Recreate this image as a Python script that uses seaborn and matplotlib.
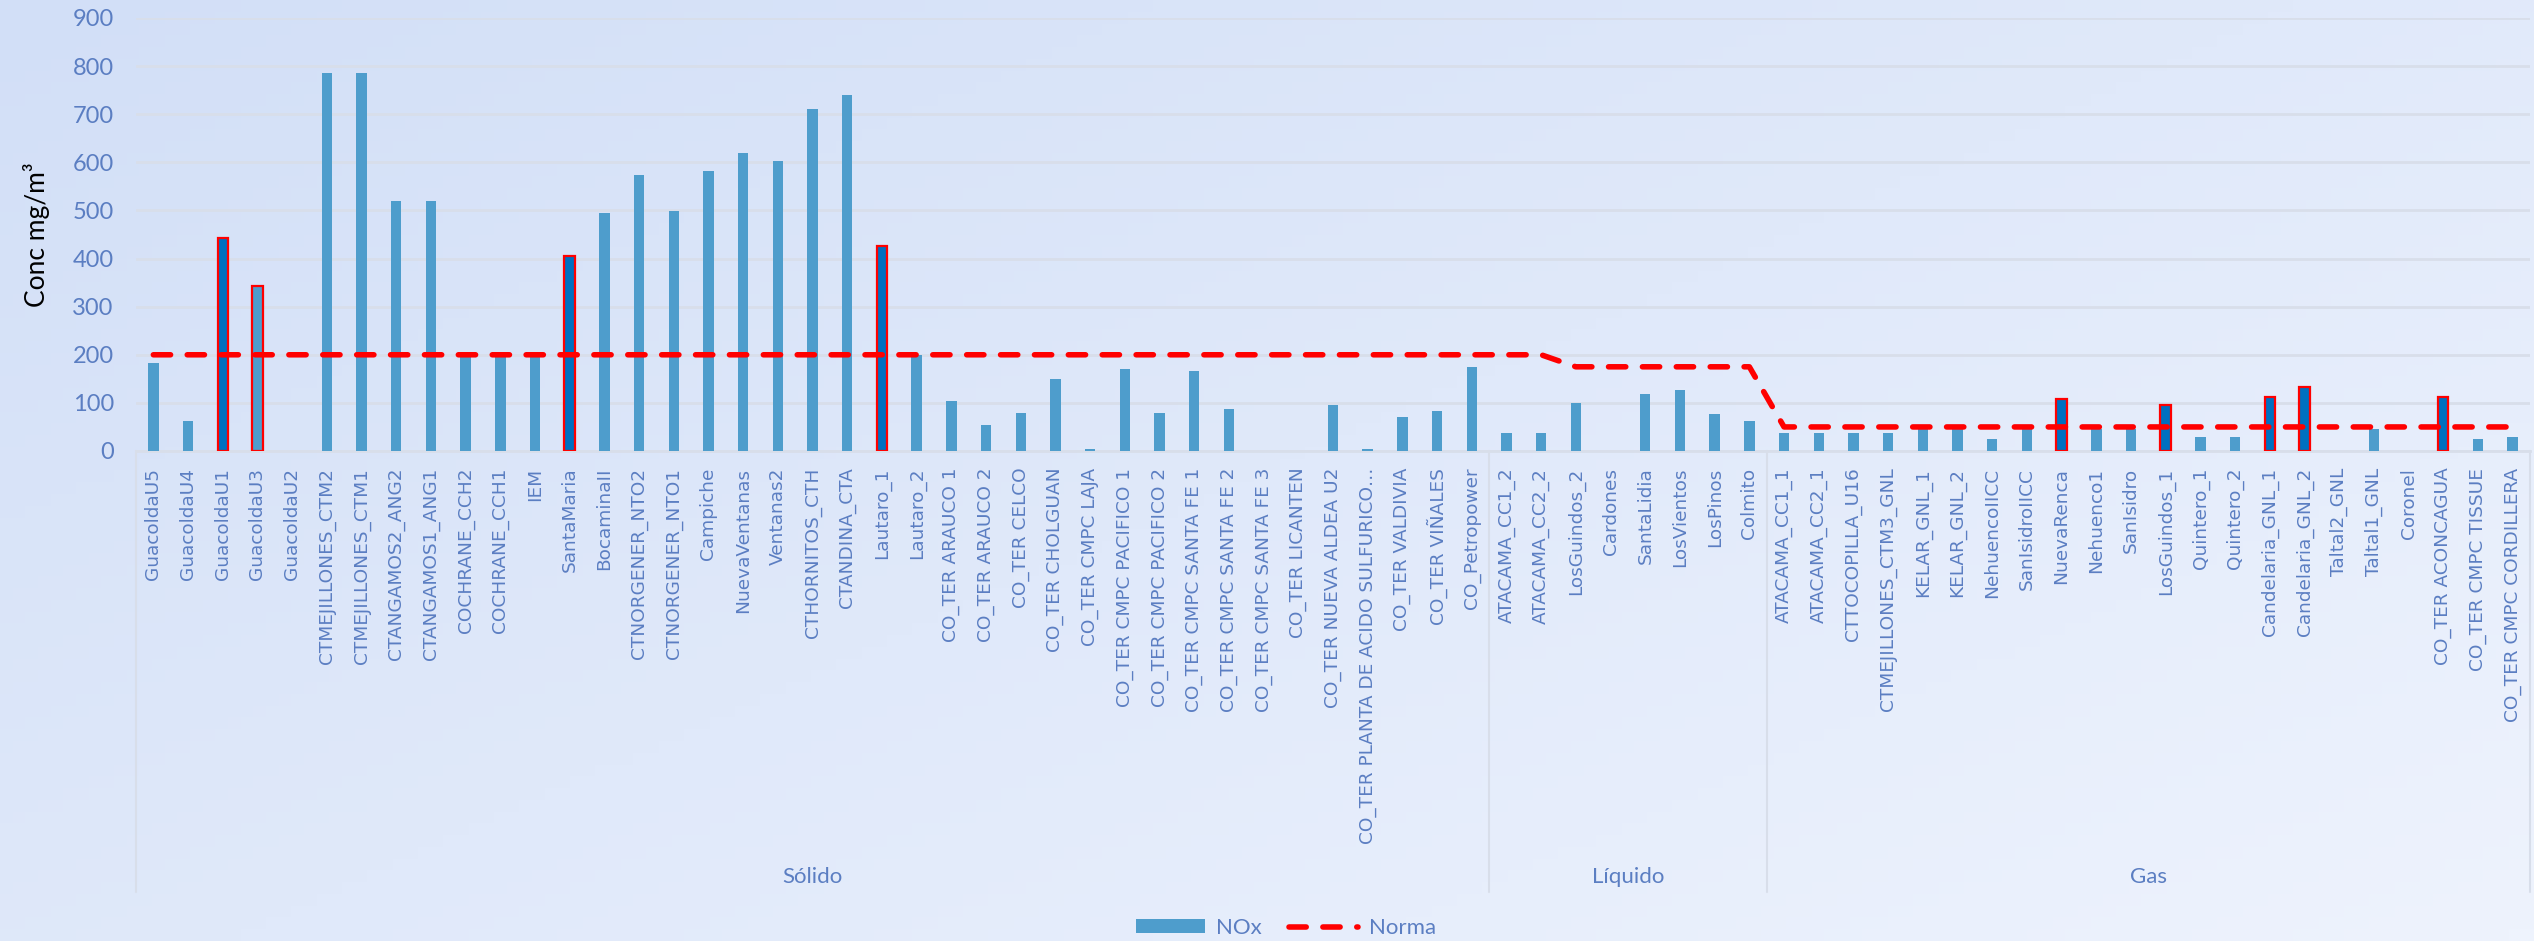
import numpy as np
import pandas as pd
import seaborn as sns
import matplotlib.pyplot as plt
from matplotlib.lines import Line2D
from matplotlib.patches import Patch
import matplotlib.transforms as mtransforms

# Datos
centrales_solido = ["GuacoldaU5", "GuacoldaU4", "GuacoldaU1", "GuacoldaU3", "GuacoldaU2",
                    "CTMEJILLONES_CTM2", "CTMEJILLONES_CTM1", "CTANGAMOS2_ANG2", "CTANGAMOS1_ANG1",
                    "COCHRANE_CCH2", "COCHRANE_CCH1", "IEM", "SantaMaria", "BocaminaII",
                    "CTNORGENER_NTO2", "CTNORGENER_NTO1", "Campiche", "NuevaVentanas", "Ventanas2",
                    "CTHORNITOS_CTH", "CTANDINA_CTA", "Lautaro_1", "Lautaro_2",
                    "CO_TER ARAUCO 1", "CO_TER ARAUCO 2", "CO_TER CELCO", "CO_TER CHOLGUAN",
                    "CO_TER CMPC LAJA", "CO_TER CMPC PACIFICO 1", "CO_TER CMPC PACIFICO 2",
                    "CO_TER CMPC SANTA FE 1", "CO_TER CMPC SANTA FE 2", "CO_TER CMPC SANTA FE 3",
                    "CO_TER LICANTEN", "CO_TER NUEVA ALDEA U2", "CO_TER PLANTA DE ACIDO SULFURICO…",
                    "CO_TER VALDIVIA", "CO_TER VIÑALES", "CO_Petropower"]
centrales_liquido = ["ATACAMA_CC1_2", "ATACAMA_CC2_2", "LosGuindos_2", "Cardones", "SantaLidia",
                     "LosVientos", "LosPinos", "Colmito"]
centrales_gas = ["ATACAMA_CC1_1", "ATACAMA_CC2_1", "CTTOCOPILLA_U16", "CTMEJILLONES_CTM3_GNL",
                 "KELAR_GNL_1", "KELAR_GNL_2", "NehuencoIICC", "SanIsidroIICC", "NuevaRenca",
                 "Nehuenco1", "SanIsidro", "LosGuindos_1", "Quintero_1", "Quintero_2",
                 "Candelaria_GNL_1", "Candelaria_GNL_2", "Taltal2_GNL", "Taltal1_GNL", "Coronel",
                 "CO_TER ACONCAGUA", "CO_TER CMPC TISSUE", "CO_TER CMPC CORDILLERA"]

nox_solido = [183, 62, 443, 343, 0, 785, 785, 519, 519, 199, 199, 199, 406, 494, 573, 499, 582,
              619, 602, 711, 740, 427, 199, 104, 54, 79, 150, 4, 170, 79, 166, 87, 0, 0, 96, 4,
              71, 83, 175]
nox_liquido = [37, 37, 100, 0, 118, 126, 76, 63]
nox_gas = [38, 38, 38, 38, 48, 50, 25, 46, 108, 46, 46, 95, 29, 29, 112, 133, 0, 46, 0, 112,
           25, 29]

norma_solido = [200] * 39
norma_liquido = [200, 200, 175, 175, 175, 175, 175, 175]
norma_gas = [50] * 22

# centrales que superan la norma (borde rojo)
sobre_norma = ["GuacoldaU1", "GuacoldaU3", "SantaMaria", "Lautaro_1", "NuevaRenca",
               "LosGuindos_1", "Candelaria_GNL_1", "Candelaria_GNL_2", "CO_TER ACONCAGUA"]
relleno_oscuro = ["GuacoldaU1", "SantaMaria", "Lautaro_1", "NuevaRenca", "LosGuindos_1",
                  "Candelaria_GNL_1", "Candelaria_GNL_2", "CO_TER ACONCAGUA"]

grupos = ["Sólido", "Líquido", "Gas"]

nombres = centrales_solido + centrales_liquido + centrales_gas
nox = nox_solido + nox_liquido + nox_gas
norma = norma_solido + norma_liquido + norma_gas
tamanos = [len(centrales_solido), len(centrales_liquido), len(centrales_gas)]
df = pd.DataFrame({"central": nombres, "NOx": nox})

azul = "#4E9DCC"
azul_oscuro = "#0070C0"
texto = "#5B7EC2"
gris = "#D8DEEA"
fuente = ["Lato", "DejaVu Sans"]

sns.set_theme(style="white")
plt.rcParams['font.family'] = ['DejaVu Sans']

fig = plt.figure(figsize=(25.34, 9.41), dpi=100)

# fondo celeste
bg = fig.add_axes([0, 0, 1, 1], zorder=-10)
gx, gy = np.meshgrid(np.linspace(0, 1, 200), np.linspace(0, 1, 80))
grad = 0.55 * gx + 0.45 * gy
bg.imshow(grad, cmap=sns.blend_palette(["#D2DFF7", "#EEF3FD"], as_cmap=True),
          aspect="auto", extent=[0, 1, 0, 1])
bg.axis("off")

ax = fig.add_axes([136 / 2534, 1 - 451 / 941, (2530 - 136) / 2534, (451 - 18) / 941])
ax.set_facecolor("none")

colores = {n: (azul_oscuro if n in relleno_oscuro else azul) for n in nombres}
sns.barplot(data=df, x="central", y="NOx", hue="central", palette=colores, legend=False,
            width=0.3, saturation=1, ax=ax, zorder=3)
for patch, n in zip(ax.patches, nombres):
    if n in sobre_norma:
        patch.set_edgecolor("#FF0000")
        patch.set_linewidth(1.6)
    else:
        patch.set_linewidth(0)

ax.plot(np.arange(len(nombres)), norma, color="#FF0000", lw=4, linestyle=(0, (3.1, 3.0)),
        dash_capstyle="round", zorder=4)

ax.set_ylim(0, 900)
ax.set_xlim(-0.5, len(nombres) - 0.5)
ax.set_yticks(range(0, 901, 100))
ax.yaxis.grid(True, color=gris, lw=2, zorder=0)
ax.set_axisbelow(True)
for s in ["top", "right", "left"]:
    ax.spines[s].set_visible(False)
ax.spines["bottom"].set_color(gris)
ax.spines["bottom"].set_linewidth(2)

ax.tick_params(axis="y", length=0, pad=16, labelsize=17, labelcolor=texto)
for t in ax.get_yticklabels():
    t.set_family(fuente)
ax.tick_params(axis="x", length=0, pad=12, labelsize=13.3, labelcolor=texto)
ax.set_xticks(range(len(nombres)))
ax.set_xticklabels(nombres, rotation=90, va="top", ha="center")
ax.set_xlabel("")
ax.set_ylabel("Conc mg/m³", fontsize=19, color="black", labelpad=16, family=fuente)

# eje de grupos
trans = mtransforms.blended_transform_factory(ax.transData, ax.transAxes)
inicio = 0
bordes = [-0.5]
for g, k in zip(grupos, tamanos):
    centro = inicio + (k - 1) / 2
    ax.text(centro, -0.984, g, transform=trans, ha="center", va="center", fontsize=16,
            color=texto, family=fuente)
    inicio += k
    bordes.append(inicio - 0.5)
for b in bordes:
    ax.plot([b, b], [0, -1.018], transform=trans, color=gris, lw=1.5, clip_on=False)

handles = [Patch(facecolor=azul, edgecolor="none", label="NOx"),
           Line2D([0], [0], color="#FF0000", lw=4, linestyle=(0, (3.1, 3.0)),
                  dash_capstyle="round", label="Norma")]
fig.legend(handles=handles, loc="center", bbox_to_anchor=(1286 / 2534, 1 - 928 / 941), ncol=2,
           frameon=False, handlelength=3.1, handleheight=0.6, handletextpad=0.5,
           columnspacing=1.2, labelcolor=texto, prop={"family": fuente, "size": 16})

fig.savefig("out.png", dpi=100)
